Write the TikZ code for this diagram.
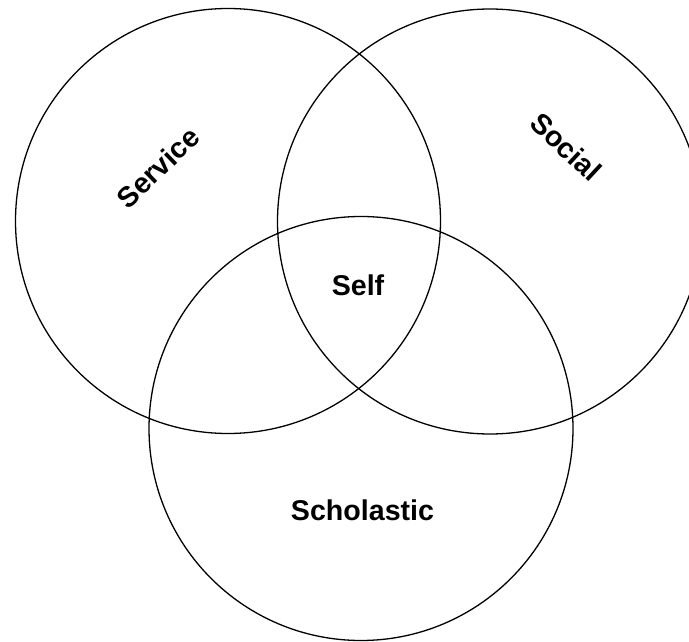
\documentclass[tikz,border=0pt]{standalone}
\usepackage{fontspec}
\setmainfont{Liberation Sans}
\begin{document}
\begin{tikzpicture}[x=1pt,y=-1pt,
  ring/.style={draw=black,line width=1.3pt},
  lbl/.style={font=\fontsize{28.6}{32}\selectfont\bfseries,inner sep=0pt}]
\useasboundingbox (0,0) rectangle (689,642);
\begin{scope}
\clip (0,0) rectangle (689,642);
\draw[ring] (228,221) circle[radius=212.5];
\draw[ring] (490,221.5) circle[radius=212.5];
\draw[ring] (361,428.5) circle[radius=212];
\end{scope}
\node[lbl,rotate=44] (service) at (158,167.5) {Service};
\node[lbl,rotate=-43] (social) at (566,147) {Social};
\node[lbl] (self) at (358,285.5) {Self};
\node[lbl] (scholastic) at (362.5,510.5) {Scholastic};
\end{tikzpicture}
\end{document}
